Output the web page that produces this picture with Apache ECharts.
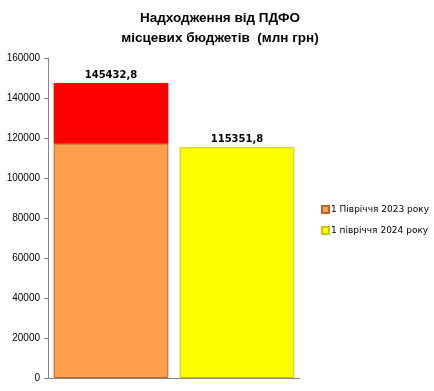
<!DOCTYPE html>
<html><head><meta charset="utf-8">
<script src="https://cdn.jsdelivr.net/npm/echarts@6/dist/echarts.min.js"></script>
<style>html,body{margin:0;padding:0;background:#fff}#c{width:434px;height:391px}</style>
</head><body><div id="c"></div>
<script>
const categories = ['2023', '2024'];
const base2023 = [117150, '-'];
const extra2023 = [30350, '-'];
const value2024 = ['-', 115350];
const valueLabels = ['145432,8', '115351,8'];
const seriesNames = ['1 Півріччя 2023 року', '1 півріччя 2024 року'];
const yTicks = { min: 0, max: 160000, interval: 20000 };

const chart = echarts.init(document.getElementById('c'));
const lab = (i) => ({show: true, position: 'top', distance: 3, fontFamily: 'DejaVu Sans', fontWeight: 'bold', fontSize: 10, color: '#000', formatter: () => valueLabels[i]});
chart.setOption({
  animation: false,
  title: { text: 'Надходження від ПДФО\nмісцевих бюджетів  (млн грн)', left: 215, textAlign: 'center', top: 3,
    textStyle: { fontFamily: 'Liberation Sans', fontWeight: 'bold', fontSize: 13.5, lineHeight: 20, color: '#000' } },
  legend: { orient: 'vertical', left: 316, top: 200, itemWidth: 7, itemHeight: 7, itemGap: 12, icon: 'rect',
    data: seriesNames, textStyle: { fontFamily: 'DejaVu Sans', fontSize: 9, color: '#000', padding: [0,0,0,-3] } },
  grid: { left: 48, right: 134, top: 58, bottom: 13 },
  xAxis: { type: 'category', data: categories, axisLabel: { show: false }, axisTick: { show: false },
    axisLine: { lineStyle: { color: '#868686' } } },
  yAxis: { type: 'value', min: yTicks.min, max: yTicks.max, interval: yTicks.interval, splitLine: { show: false },
    axisLine: { show: true, lineStyle: { color: '#868686' } }, axisTick: { show: true, length: 4, lineStyle: { color: '#868686' } },
    axisLabel: { fontFamily: 'Liberation Sans', fontSize: 10, color: '#000', margin: 8, formatter: v => String(v) } },
  series: [
    { name: seriesNames[0], type: 'bar', stack: 's', data: base2023, barCategoryGap: '9%',
      itemStyle: { color: '#ff9f4d', borderColor: '#b8662a', borderWidth: 1 } },
    { name: 'extra', type: 'bar', stack: 's', data: extra2023,
      itemStyle: { color: '#ff0000' }, label: lab(0) },
    { name: seriesNames[1], type: 'bar', stack: 's', data: value2024,
      itemStyle: { color: '#ffff00', borderColor: '#c8c800', borderWidth: 1 }, label: lab(1) }
  ]
});
</script></body></html>
